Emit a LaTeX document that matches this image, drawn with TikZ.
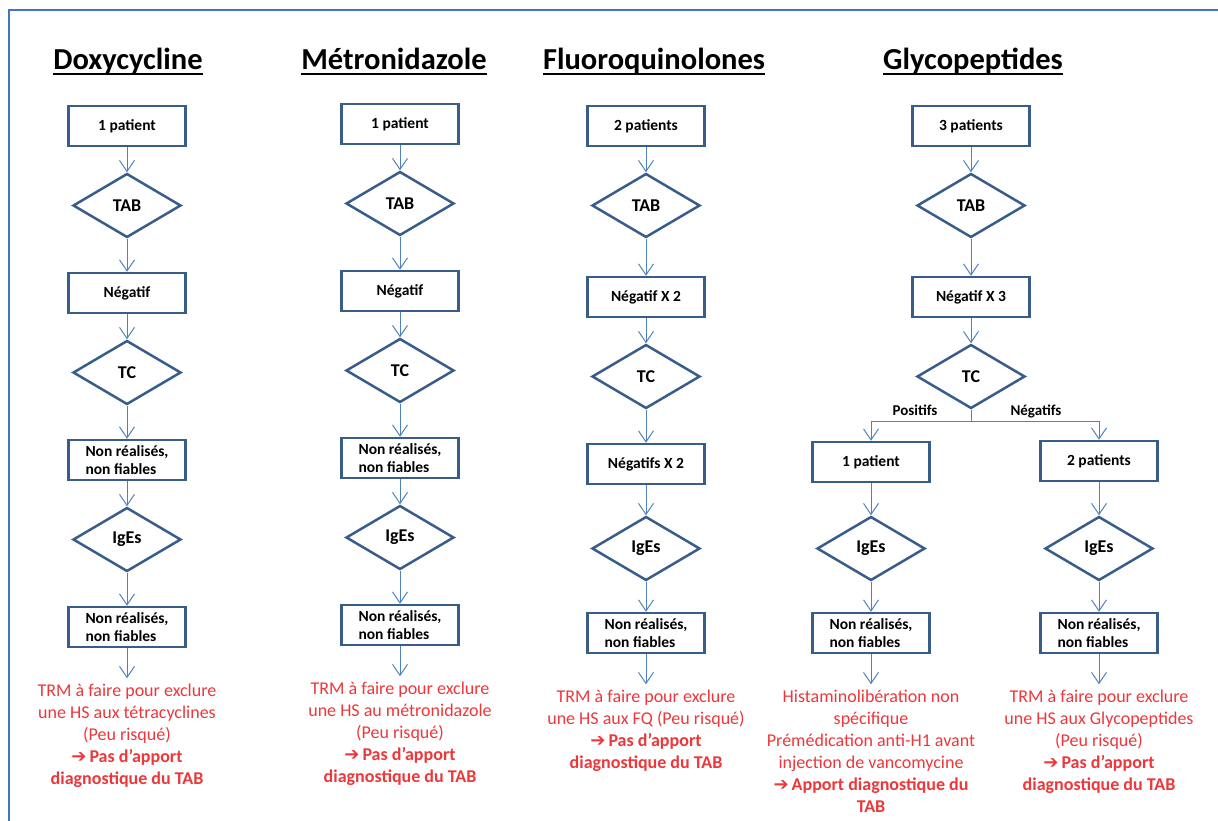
\documentclass[tikz,border=0pt]{standalone}
\usepackage{fontspec}
\setmainfont{Carlito}
\newfontfamily\dingfont{DejaVu Sans}
\usetikzlibrary{arrows.meta,positioning,shapes.geometric}
\definecolor{FlowBoxLine}{RGB}{56,93,138}
\definecolor{FlowArrow}{RGB}{79,129,189}
\definecolor{FlowFrame}{RGB}{68,114,196}
\definecolor{FlowRed}{RGB}{237,55,58}
\newcommand{\fleche}{{\dingfont\bfseries ➔}\,}
\newcommand{\souligne}[1]{\setbox0\hbox{#1}\rlap{\raisebox{-5.5pt}{\rule{\wd0}{2.6pt}}}\box0}

\begin{document}
\begin{tikzpicture}[
    x=1pt,y=-1pt,
    node distance=25pt,
    box/.style={draw=FlowBoxLine,line width=2.5pt,fill=white,minimum height=40pt,minimum width=117pt,align=center,font=\fontsize{15.5}{18}\selectfont\bfseries},
    test/.style={diamond,draw=FlowBoxLine,line width=2.5pt,fill=white,minimum width=108pt,minimum height=64pt,inner sep=0pt,font=\fontsize{18}{20}\selectfont\bfseries},
    title/.style={font=\fontsize{30.5}{34}\selectfont\bfseries},
    result/.style={text=FlowRed,align=center,inner xsep=1pt,inner ysep=6pt,font=\fontsize{18}{22}\selectfont},
    branch/.style={font=\fontsize{15}{18}\selectfont\bfseries},
    arr/.style={-{Straight Barb[length=11pt,width=15pt]},line width=1pt,draw=FlowArrow}
  ]
    \useasboundingbox (0,0) rectangle (1218,821);
    \draw[FlowFrame,line width=2pt] (9,900) |- (1300,10);

    % Doxycycline
    \node[title] (t1) at (128,62) {\souligne{Doxycycline}};
    \node[box] (d1) at (127,126) {1 patient};
    \node[test,below=of d1] (d2) {TAB};
    \node[box,below=33pt of d2] (d3) {Négatif};
    \node[test,below=of d3] (d4) {TC};
    \node[box,below=33pt of d4,align=left] (d5) {Non réalisés,\\non fiables};
    \node[test,below=of d5] (d6) {IgEs};
    \node[box,below=33pt of d6,align=left] (d7) {Non réalisés,\\non fiables};
    \node[result,below=30pt of d7] (d8) {TRM à faire pour exclure\\une HS aux tétracyclines\\(Peu risqué)\\\textbf{\fleche Pas d’apport}\\\textbf{diagnostique du TAB}};
    \draw[arr] (d1) -- (d2);
    \draw[arr] (d2) -- (d3);
    \draw[arr] (d3) -- (d4);
    \draw[arr] (d4) -- (d5);
    \draw[arr] (d5) -- (d6);
    \draw[arr] (d6) -- (d7);
    \draw[arr] (d7) -- (d8);

    % Metronidazole
    \node[title] (t2) at (394,62) {\souligne{Métronidazole}};
    \node[box] (m1) at (400,124) {1 patient};
    \node[test,below=of m1] (m2) {TAB};
    \node[box,below=33pt of m2] (m3) {Négatif};
    \node[test,below=of m3] (m4) {TC};
    \node[box,below=33pt of m4,align=left] (m5) {Non réalisés,\\non fiables};
    \node[test,below=of m5] (m6) {IgEs};
    \node[box,below=33pt of m6,align=left] (m7) {Non réalisés,\\non fiables};
    \node[result,below=30pt of m7] (m8) {TRM à faire pour exclure\\une HS au métronidazole\\(Peu risqué)\\\textbf{\fleche Pas d’apport}\\\textbf{diagnostique du TAB}};
    \draw[arr] (m1) -- (m2);
    \draw[arr] (m2) -- (m3);
    \draw[arr] (m3) -- (m4);
    \draw[arr] (m4) -- (m5);
    \draw[arr] (m5) -- (m6);
    \draw[arr] (m6) -- (m7);
    \draw[arr] (m7) -- (m8);

    % Fluoroquinolones
    \node[title] (t3) at (654,62) {\souligne{Fluoroquinolones}};
    \node[box] (f1) at (646,126) {2 patients};
    \node[test,below=of f1] (f2) {TAB};
    \node[box,below=37pt of f2] (f3) {Négatif X 2};
    \node[test,below=of f3] (f4) {TC};
    \node[box,below=33pt of f4] (f5) {Négatifs X 2};
    \node[test,below=30pt of f5] (f6) {IgEs};
    \node[box,below=30pt of f6,align=left] (f7) {Non réalisés,\\non fiables};
    \node[result,below=30pt of f7] (f8) {TRM à faire pour exclure\\une HS aux FQ (Peu risqué)\\\textbf{\fleche Pas d’apport}\\\textbf{diagnostique du TAB}};
    \draw[arr] (f1) -- (f2);
    \draw[arr] (f2) -- (f3);
    \draw[arr] (f3) -- (f4);
    \draw[arr] (f4) -- (f5);
    \draw[arr] (f5) -- (f6);
    \draw[arr] (f6) -- (f7);
    \draw[arr] (f7) -- (f8);

    % Glycopeptides
    \node[title] (t4) at (973,62) {\souligne{Glycopeptides}};
    \node[box] (g1) at (971,126) {3 patients};
    \node[test,below=of g1] (g2) {TAB};
    \node[box,below=37pt of g2] (g3) {Négatif X 3};
    \node[test,below=of g3] (g4) {TC};
    \node[branch] (gpos) at (915,410) {Positifs};
    \node[branch] (gneg) at (1036,411) {Négatifs};
    \node[box] (g5) at (871,462) {1 patient};
    \node[test,below=32pt of g5] (g6) {IgEs};
    \node[box,below=30pt of g6,align=left] (g7) {Non réalisés,\\non fiables};
    \node[result,below=30pt of g7] (g8) {Histaminolibération non\\spécifique\\Prémédication anti-H1 avant\\injection de vancomycine\\\textbf{\fleche Apport diagnostique du}\\\textbf{TAB}};
    \node[box] (h5) at (1099,461) {2 patients};
    \node[test,below=33pt of h5] (h6) {IgEs};
    \node[box,below=30pt of h6,align=left] (h7) {Non réalisés,\\non fiables};
    \node[result,below=30pt of h7] (h8) {TRM à faire pour exclure\\une HS aux Glycopeptides\\(Peu risqué)\\\textbf{\fleche Pas d’apport}\\\textbf{diagnostique du TAB}};
    \draw[arr] (g1) -- (g2);
    \draw[arr] (g2) -- (g3);
    \draw[arr] (g3) -- (g4);
    \draw[FlowArrow,line width=1pt] (g4.south) -- ++(0,12) coordinate (gfork);
    \draw[arr] (gfork) -| (g5.north);
    \draw[arr] (gfork) -| (h5.north);
    \draw[arr] (g5) -- (g6);
    \draw[arr] (g6) -- (g7);
    \draw[arr] (g7) -- (g8);
    \draw[arr] (h5) -- (h6);
    \draw[arr] (h6) -- (h7);
    \draw[arr] (h7) -- (h8);
  \end{tikzpicture}
\end{document}
